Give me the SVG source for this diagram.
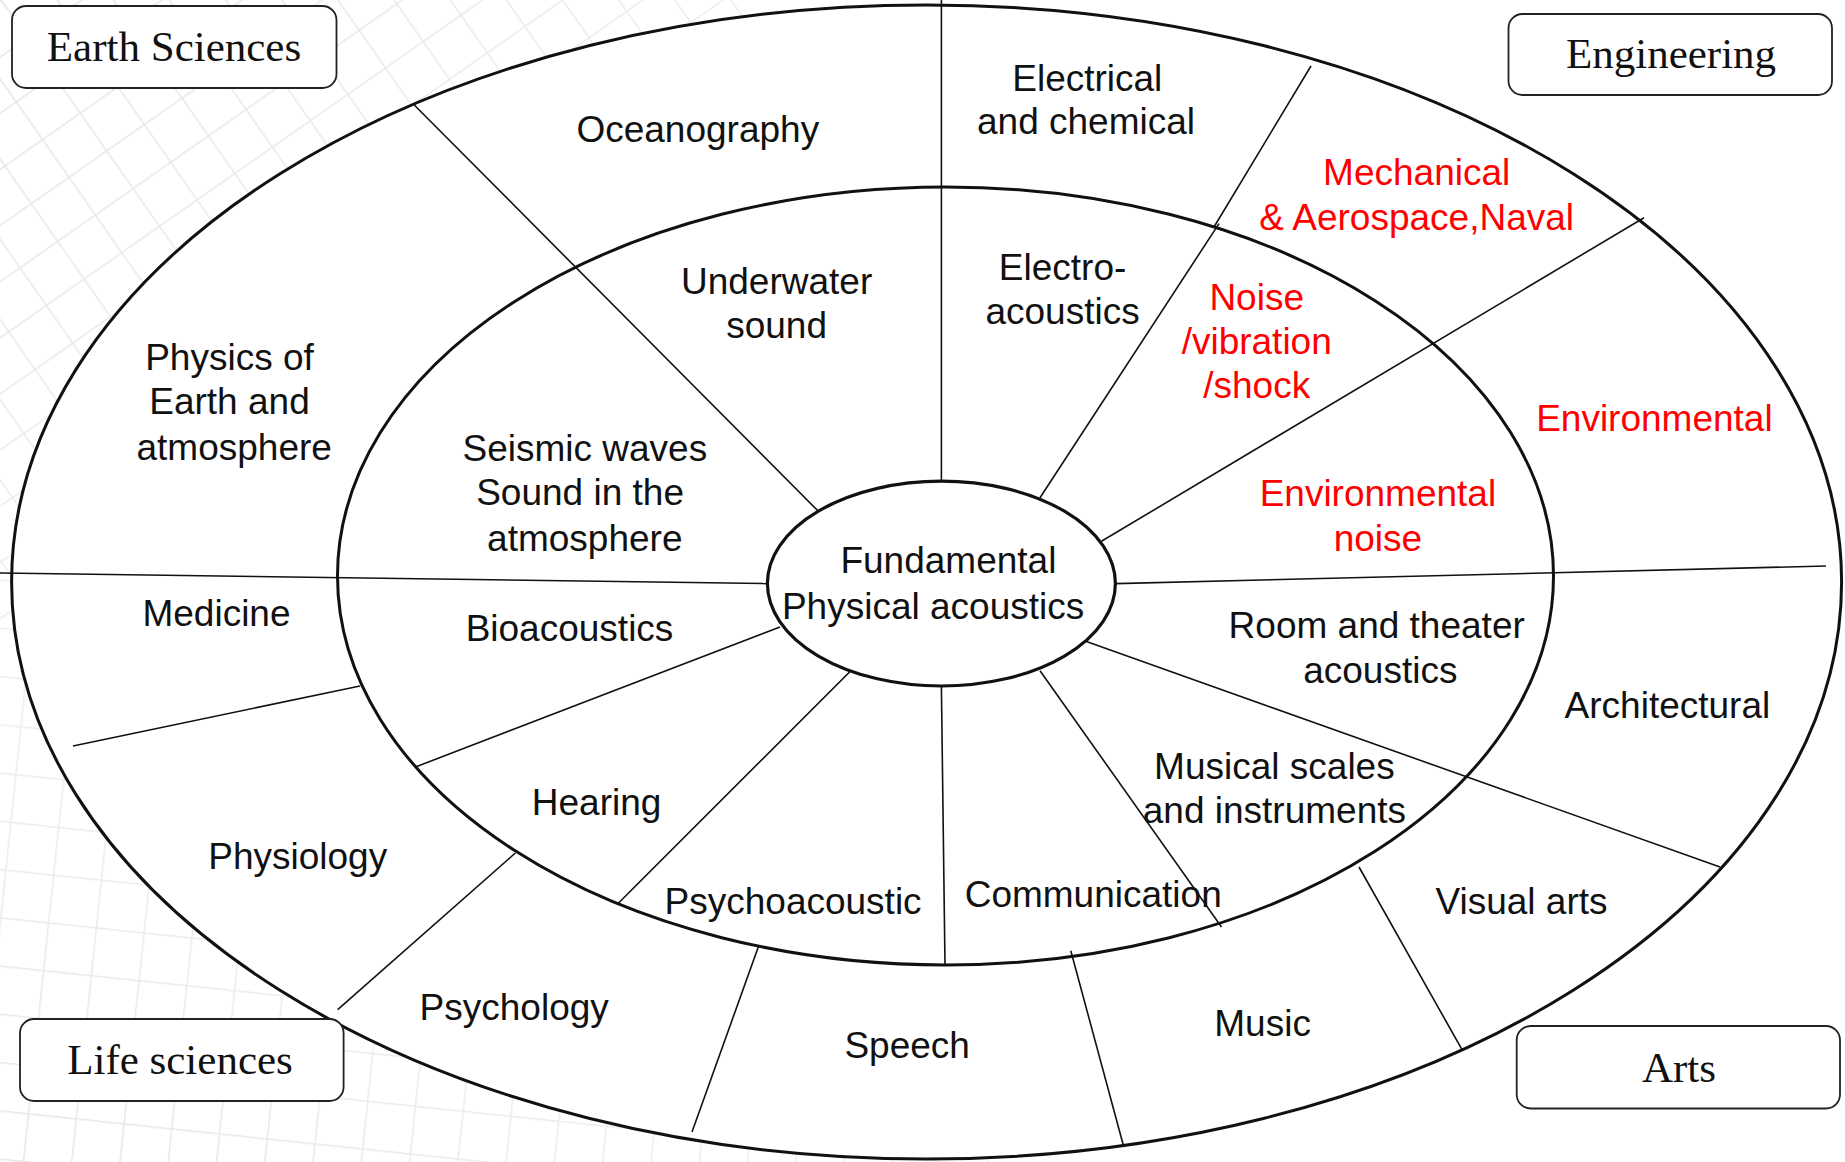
<svg xmlns="http://www.w3.org/2000/svg" width="1845" height="1162" viewBox="0 0 1845 1162">
  <style>
    .ring { fill: none; stroke: #111; stroke-width: 3; }
    .hub { fill: #fff; stroke: #111; stroke-width: 3.2; }
    .spoke { fill: none; stroke: #111; stroke-width: 1.6; }
    .lbl { font-family: "Liberation Sans", Arial, sans-serif; font-size: 37px; fill: #111; text-anchor: middle; }
    .red { fill: #ff0000; }
    .box { fill: #fff; stroke: #222; stroke-width: 1.8; }
    .cat { font-family: "Liberation Serif", "Times New Roman", serif; font-size: 43px; fill: #111; text-anchor: middle; }
  </style>
  <defs>
    <pattern id="gridA" width="46" height="46" patternUnits="userSpaceOnUse" patternTransform="rotate(-35)">
      <path d="M0 0 H46 M0 0 V46" fill="none" stroke="#e4e4e4" stroke-width="3"/>
    </pattern>
    <pattern id="gridB" width="48" height="48" patternUnits="userSpaceOnUse" patternTransform="rotate(6)">
      <path d="M0 0 H48 M0 0 V48" fill="none" stroke="#e6e6e6" stroke-width="3"/>
    </pattern>
    <linearGradient id="fadeA" x1="0" y1="0" x2="1" y2="1">
      <stop offset="0" stop-color="#fff" stop-opacity="1"/>
      <stop offset="0.6" stop-color="#fff" stop-opacity="0.6"/>
      <stop offset="1" stop-color="#fff" stop-opacity="0"/>
    </linearGradient>
    <linearGradient id="fadeB" x1="0" y1="1" x2="1" y2="0">
      <stop offset="0" stop-color="#fff" stop-opacity="1"/>
      <stop offset="0.7" stop-color="#fff" stop-opacity="0.5"/>
      <stop offset="1" stop-color="#fff" stop-opacity="0"/>
    </linearGradient>
    <mask id="maskA"><rect x="0" y="0" width="760" height="620" fill="url(#fadeA)"/></mask>
    <mask id="maskB"><rect x="0" y="560" width="1000" height="602" fill="url(#fadeB)"/></mask>
  </defs>

  <!-- page background with faint grid texture -->
  <rect width="1845" height="1162" fill="#fff"/>
  <rect x="0" y="0" width="760" height="620" fill="url(#gridA)" mask="url(#maskA)"/>
  <rect x="0" y="560" width="1000" height="602" fill="url(#gridB)" mask="url(#maskB)"/>

  <!-- rings -->
  <g id="rings">
    <ellipse id="outer-ring" cx="926.6" cy="582" rx="915" ry="577" fill="#fff" stroke="#111" stroke-width="3"/>
    <ellipse id="inner-ring" class="ring" cx="945.5" cy="576" rx="608" ry="389"/>
  </g>

  <!-- dividing spokes -->
  <g id="connectors">
    <line class="spoke" x1="941.4" y1="0" x2="941.4" y2="481"/>
    <line class="spoke" x1="414" y1="104.7" x2="817.8" y2="510.7"/>
    <line class="spoke" x1="0" y1="573" x2="767" y2="583.6"/>
    <line class="spoke" x1="73" y1="746" x2="360" y2="686"/>
    <line class="spoke" x1="415.4" y1="767" x2="780" y2="627"/>
    <line class="spoke" x1="617.8" y1="903.7" x2="849.6" y2="672"/>
    <line class="spoke" x1="337.7" y1="1009.6" x2="515.4" y2="853"/>
    <line class="spoke" x1="692" y1="1132" x2="759" y2="945"/>
    <line class="spoke" x1="941.4" y1="686" x2="945" y2="965"/>
    <line class="spoke" x1="1040" y1="670.7" x2="1221.5" y2="927"/>
    <line class="spoke" x1="1070.8" y1="950.8" x2="1123.8" y2="1147"/>
    <line class="spoke" x1="1085" y1="641" x2="1720" y2="867"/>
    <line class="spoke" x1="1359" y1="867" x2="1462.7" y2="1050.8"/>
    <line class="spoke" x1="1115.5" y1="583.6" x2="1826" y2="566"/>
    <line class="spoke" x1="1101.4" y1="541.3" x2="1644" y2="217.7"/>
    <line class="spoke" x1="1040" y1="497.7" x2="1219" y2="223.6"/>
    <line class="spoke" x1="1214" y1="227" x2="1311" y2="66"/>
  </g>

  <!-- central hub -->
  <g id="hub">
    <ellipse class="hub" cx="941.4" cy="583.6" rx="174" ry="102.4"/>
    <text class="lbl" x="948.4" y="573">Fundamental</text>
    <text class="lbl" x="933.1" y="619">Physical acoustics</text>
  </g>

  <!-- inner ring sectors -->
  <g id="underwater-sound"><text class="lbl" x="776.6" y="294">Underwater</text><text class="lbl" x="776.6" y="338">sound</text></g>
  <g id="electroacoustics"><text class="lbl" x="1062.6" y="280">Electro-</text><text class="lbl" x="1062.6" y="324">acoustics</text></g>
  <g id="noise-vibration"><text class="lbl red" x="1256.7" y="310">Noise</text><text class="lbl red" x="1256.7" y="354">/vibration</text><text class="lbl red" x="1256.7" y="398">/shock</text></g>
  <g id="environmental-noise"><text class="lbl red" x="1377.9" y="506">Environmental</text><text class="lbl red" x="1377.9" y="551">noise</text></g>
  <g id="room-theater"><text class="lbl" x="1376.7" y="638">Room and theater</text><text class="lbl" x="1380.3" y="683">acoustics</text></g>
  <g id="musical-scales"><text class="lbl" x="1274.4" y="779">Musical scales</text><text class="lbl" x="1274.4" y="823">and instruments</text></g>
  <g id="communication"><text class="lbl" x="1093.2" y="907">Communication</text></g>
  <g id="psychoacoustic"><text class="lbl" x="793.1" y="914">Psychoacoustic</text></g>
  <g id="hearing"><text class="lbl" x="596.6" y="815">Hearing</text></g>
  <g id="bioacoustics"><text class="lbl" x="569.5" y="641">Bioacoustics</text></g>
  <g id="seismic-waves"><text class="lbl" x="584.8" y="461">Seismic waves</text><text class="lbl" x="580.1" y="505">Sound in the</text><text class="lbl" x="584.8" y="551">atmosphere</text></g>

  <!-- outer ring sectors -->
  <g id="oceanography"><text class="lbl" x="697.8" y="142">Oceanography</text></g>
  <g id="electrical-chemical"><text class="lbl" x="1087.3" y="91">Electrical</text><text class="lbl" x="1086" y="134">and chemical</text></g>
  <g id="mechanical"><text class="lbl red" x="1416.7" y="185">Mechanical</text><text class="lbl red" x="1416.7" y="230">&amp; Aerospace,Naval</text></g>
  <g id="environmental"><text class="lbl red" x="1654.4" y="431">Environmental</text></g>
  <g id="architectural"><text class="lbl" x="1667.4" y="718">Architectural</text></g>
  <g id="visual-arts"><text class="lbl" x="1521.5" y="914">Visual arts</text></g>
  <g id="music"><text class="lbl" x="1262.6" y="1036">Music</text></g>
  <g id="speech"><text class="lbl" x="907.2" y="1058">Speech</text></g>
  <g id="psychology"><text class="lbl" x="514.2" y="1020">Psychology</text></g>
  <g id="physiology"><text class="lbl" x="297.7" y="869">Physiology</text></g>
  <g id="medicine"><text class="lbl" x="216.5" y="626">Medicine</text></g>
  <g id="physics-earth"><text class="lbl" x="229.5" y="370">Physics of</text><text class="lbl" x="229.5" y="414">Earth and</text><text class="lbl" x="234.2" y="460">atmosphere</text></g>

  <!-- field category boxes -->
  <g id="earth-sciences"><rect class="box" x="12" y="6" width="324.5" height="82" rx="14"/><text class="cat" x="174" y="61">Earth Sciences</text></g>
  <g id="engineering"><rect class="box" x="1508.5" y="14" width="323.5" height="81" rx="14"/><text class="cat" x="1671" y="68">Engineering</text></g>
  <g id="life-sciences"><rect class="box" x="20" y="1019" width="323.6" height="82" rx="14"/><text class="cat" x="180" y="1074">Life sciences</text></g>
  <g id="arts"><rect class="box" x="1516.7" y="1026" width="323.3" height="82.5" rx="14"/><text class="cat" x="1679" y="1082">Arts</text></g>
</svg>
